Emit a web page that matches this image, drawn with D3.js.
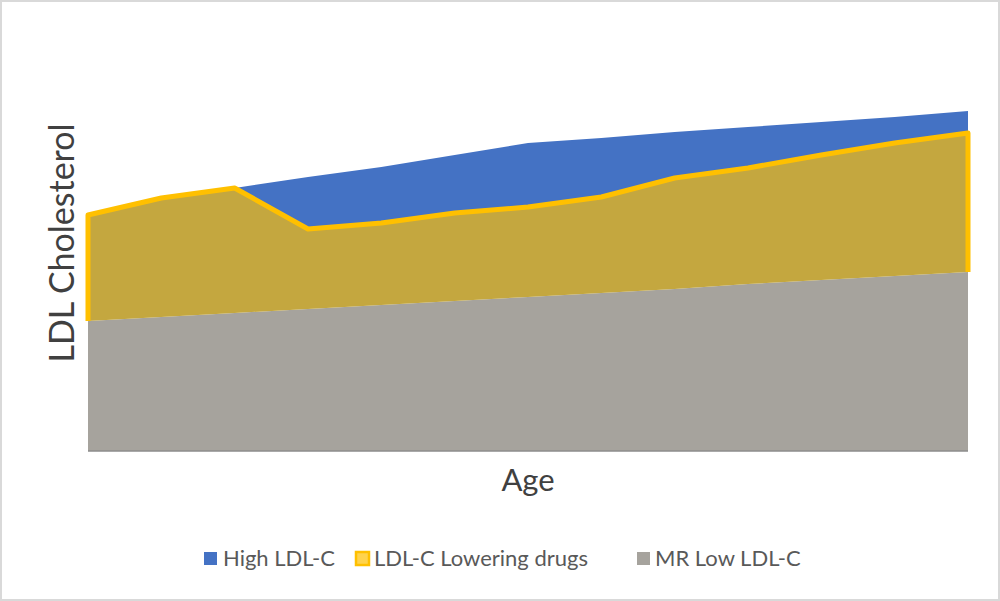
<!DOCTYPE html>
<html>
<head>
<meta charset="utf-8">
<script src="https://cdn.jsdelivr.net/npm/d3@7"></script>
<style>
  body { margin: 0; background: #fff; }
  svg { display: block; font-family: Lato, "Open Sans", sans-serif; }
</style>
</head>
<body>
<svg id="chart" width="1000" height="601"></svg>
<script>
// age steps (no labels shown on the axis)
const ages = d3.range(13);

// stacked series values (arbitrary units)
const mrLow = [130, 134, 138, 142, 146, 150, 154, 158, 162, 167, 171, 175, 179];
const lowering = [106, 119, 125, 80, 82, 88, 90, 96, 111, 116, 125, 133, 139];
const highLdl = [0, 0, 0, 52, 56, 58, 64, 59, 46, 41, 33, 26, 22];

const keys = ["mrLow", "lowering", "highLdl"];
const labels = {highLdl: "High LDL-C", lowering: "LDL-C Lowering drugs", mrLow: "MR Low LDL-C"};
const fills = {highLdl: "#4472c4", lowering: "#c4a73f", mrLow: "#a6a39d"};

const rows = ages.map((a, i) => ({age: a, mrLow: mrLow[i], lowering: lowering[i], highLdl: highLdl[i]}));

const svg = d3.select("#chart");
const W = 1000, H = 601;
const margin = {left: 88, right: 32, top: 81, bottom: 150};

// frame round the picture
svg.append("rect")
  .attr("x", 1).attr("y", 1)
  .attr("width", W - 2).attr("height", H - 2)
  .attr("fill", "#fff")
  .attr("stroke", "#d9d9d9")
  .attr("stroke-width", 2);

const x = d3.scaleLinear()
  .domain(d3.extent(ages))
  .range([margin.left, W - margin.right]);

const y = d3.scaleLinear()
  .domain([0, 370])
  .range([H - margin.bottom, margin.top]);

const series = d3.stack().keys(keys)(rows);

const area = d3.area()
  .x(d => x(d.data.age))
  .y0(d => y(d[0]))
  .y1(d => y(d[1]));

let plot = svg.append("g");

plot.selectAll("path.area")
  .data(series)
  .join("path")
  .attr("class", "area")
  .attr("fill", d => fills[d.key])
  .attr("d", area);

// yellow outline of the drugs band: left side, top, right side
let mid = series[1];
let outline = [[x(mid[0].data.age), y(mid[0][0])]]
  .concat(mid.map(d => [x(d.data.age), y(d[1])]))
  .concat([[x(mid[mid.length - 1].data.age), y(mid[mid.length - 1][0])]]);

plot.append("path")
  .attr("d", d3.line()(outline))
  .attr("fill", "none")
  .attr("stroke", "#ffc000")
  .attr("stroke-width", 5)
  .attr("stroke-linejoin", "round");

// base line
plot.append("line")
  .attr("x1", x(0)).attr("x2", x(12))
  .attr("y1", y(0)).attr("y2", y(0))
  .attr("stroke", "#8c8c8c")
  .attr("stroke-width", 1.5);

// axis titles
svg.append("text")
  .attr("x", (x(0) + x(12)) / 2)
  .attr("y", 491)
  .attr("text-anchor", "middle")
  .attr("font-size", 31)
  .attr("fill", "#404040")
  .text("Age");

svg.append("text")
  .attr("transform", "translate(74," + 243 + ")rotate(-90)")
  .attr("text-anchor", "middle")
  .attr("font-size", 34)
  .attr("fill", "#404040")
  .text("LDL Cholesterol");

// legend
let legendItems = [
  {key: "highLdl", x: 204, tx: 223},
  {key: "lowering", x: 356, tx: 374},
  {key: "mrLow", x: 637, tx: 655}
];

let legend = svg.append("g");
legendItems.forEach(item => {
  let sw = legend.append("rect")
    .attr("x", item.x).attr("y", 552)
    .attr("width", 13).attr("height", 13)
    .attr("fill", item.key === "lowering" ? "#ffd34d" : fills[item.key]);
  if (item.key === "lowering") {
    sw.attr("stroke", "#ffc000").attr("stroke-width", 2.5);
  }
  legend.append("text")
    .attr("x", item.tx).attr("y", 566)
    .attr("font-size", 22)
    .attr("fill", "#595959")
    .text(labels[item.key]);
});
</script>
</body>
</html>
